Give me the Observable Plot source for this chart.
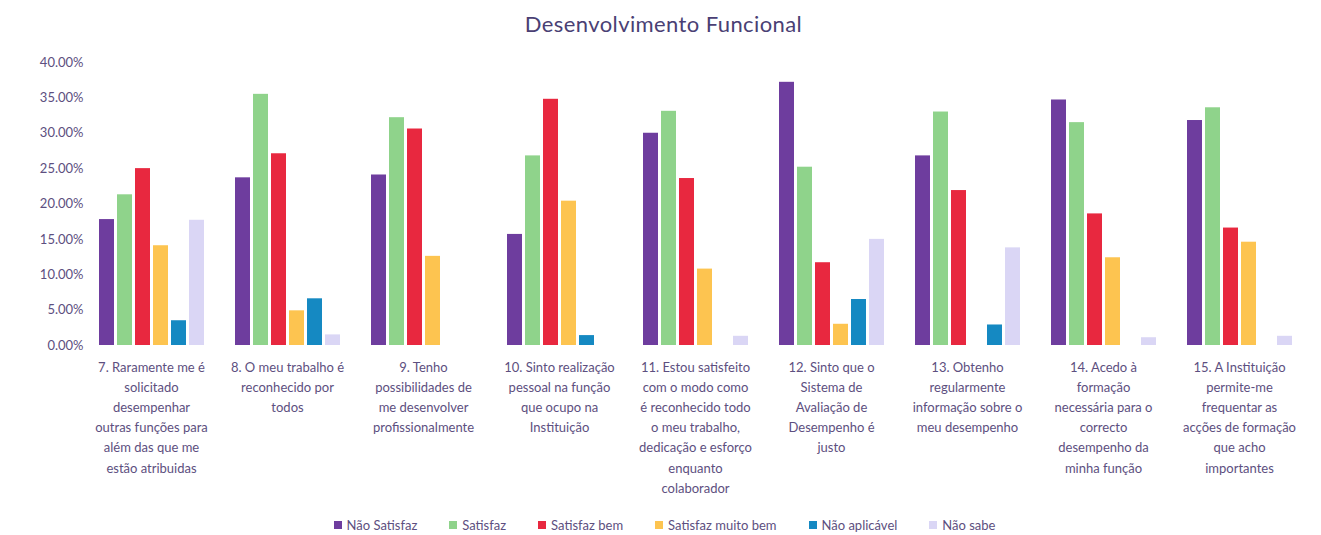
<!DOCTYPE html>
<html>
<head>
<meta charset="utf-8">
<script src="https://cdn.jsdelivr.net/npm/d3@7"></script>
<script src="https://cdn.jsdelivr.net/npm/@observablehq/plot@0.6"></script>
<style>
  html, body { margin: 0; padding: 0; background: #fff; }
  body { width: 1321px; height: 535px; overflow: hidden; font-family: Lato, "Open Sans", sans-serif; }
  #title { height: 45px; line-height: 48px; text-align: center; font-size: 22px; color: #4a3f74; letter-spacing: 0.4px; padding-left: 6px; }
  #chart { height: 460px; }
  #legend { height: 40px; display: flex; justify-content: center; align-items: center; font-size: 13px; color: #5d4f80; padding-left: 8px; }
  .item { display: inline-flex; align-items: center; margin: 0 16px; }
  .sw { width: 8px; height: 8px; margin-right: 5px; display: inline-block; }
</style>
</head>
<body>
<div id="title">Desenvolvimento Funcional</div>
<div id="chart"></div>
<div id="legend"></div>
<script>
const categories = [
  "7. Raramente me é\nsolicitado\ndesempenhar\noutras funções para\nalém das que me\nestão atribuidas",
  "8. O meu trabalho é\nreconhecido por\ntodos",
  "9. Tenho\npossibilidades de\nme desenvolver\nprofissionalmente",
  "10. Sinto realização\npessoal na função\nque ocupo na\nInstituição",
  "11. Estou satisfeito\ncom o modo como\né reconhecido todo\no meu trabalho,\ndedicação e esforço\nenquanto\ncolaborador",
  "12. Sinto que o\nSistema de\nAvaliação de\nDesempenho é\njusto",
  "13. Obtenho\nregularmente\ninformação sobre o\nmeu desempenho",
  "14. Acedo à\nformação\nnecessária para o\ncorrecto\ndesempenho da\nminha função",
  "15. A Instituição\npermite-me\nfrequentar as\nacções de formação\nque acho\nimportantes"
];
const series = ["Não Satisfaz", "Satisfaz", "Satisfaz bem", "Satisfaz muito bem", "Não aplicável", "Não sabe"];
const colors = ["#6e3d9e", "#8fd38b", "#e8283f", "#fdc450", "#1589c2", "#dad6f5"];

const naoSatisfaz     = [17.8, 23.7, 24.1, 15.7, 30.0, 37.2, 26.8, 34.7, 31.8];
const satisfaz        = [21.3, 35.5, 32.2, 26.8, 33.1, 25.2, 33.0, 31.5, 33.6];
const satisfazBem     = [25.0, 27.1, 30.6, 34.8, 23.6, 11.7, 21.9, 18.6, 16.6];
const satisfazMuitoBem= [14.1,  4.9, 12.6, 20.4, 10.8,  3.0, null, 12.4, 14.6];
const naoAplicavel    = [ 3.5,  6.6, null,  1.4, null,  6.5,  2.9, null, null];
const naoSabe         = [17.7,  1.5, null, null,  1.3, 15.0, 13.8,  1.1,  1.3];

const yTicks = [0, 5, 10, 15, 20, 25, 30, 35, 40];

const seriesValues = [naoSatisfaz, satisfaz, satisfazBem, satisfazMuitoBem, naoAplicavel, naoSabe];
const rows = [];
categories.forEach((c, i) => {
  series.forEach((s, j) => {
    const v = seriesValues[j][i];
    if (v != null) rows.push({category: c, series: s, value: v / 100});
  });
});

const chart = Plot.plot({
  width: 1321,
  height: 460,
  marginTop: 17,
  marginBottom: 160,
  marginLeft: 80,
  marginRight: 11,
  style: {fontFamily: "Lato, 'Open Sans', sans-serif", background: "#fff"},
  fx: {domain: categories, paddingInner: 0.22, paddingOuter: 0.11},
  x: {domain: series, axis: null, paddingInner: 0.18, paddingOuter: 0},
  y: {domain: [0, 0.40]},
  color: {domain: series, range: colors},
  marks: [
    Plot.barY(rows, {fx: "category", x: "series", y: "value", fill: "series"}),
    Plot.axisY({ticks: yTicks.map(d => d / 100), tickFormat: d => (d * 100).toFixed(2) + "%", tickSize: 0, tickPadding: 15, fontSize: 13, color: "#5d4f80", label: null}),
    Plot.axisFx({anchor: "bottom", tickSize: 0, tickPadding: 12, fontSize: 13, lineHeight: 1.55, color: "#5d4f80", label: null, textAnchor: "middle"})
  ]
});
document.getElementById("chart").appendChild(chart);

const legend = document.getElementById("legend");
series.forEach((s, j) => {
  const item = document.createElement("span");
  item.className = "item";
  const sw = document.createElement("span");
  sw.className = "sw";
  sw.style.background = colors[j];
  item.appendChild(sw);
  item.appendChild(document.createTextNode(s));
  legend.appendChild(item);
});
</script>
</body>
</html>
